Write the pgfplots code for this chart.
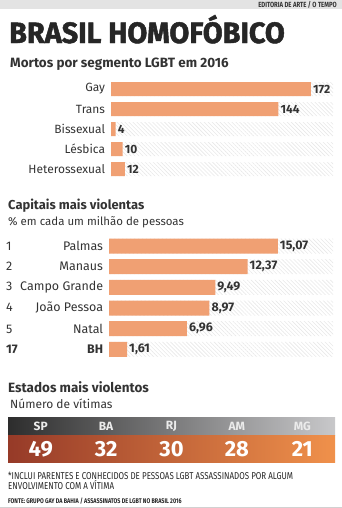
\documentclass[border=0pt]{standalone}
\usepackage{pgfplots}
\pgfplotsset{compat=1.18}
\usetikzlibrary{patterns.meta}
\usepackage{fontspec}
\setmainfont{Fira Sans}
\newfontfamily\condfont{Fira Sans}[FakeStretch=0.8]
\newfontfamily\titlefont{Fira Sans}[FakeStretch=0.98, FakeBold=1.6]
\definecolor{barc}{RGB}{240,160,115}
\definecolor{txt}{RGB}{51,51,51}
\definecolor{hatch}{RGB}{232,232,232}
\definecolor{sA}{RGB}{45,45,45}
\definecolor{sB}{RGB}{200,200,202}
\definecolor{rA}{RGB}{150,58,40}
\definecolor{rB}{RGB}{240,145,75}
\pgfplotsset{/pgf/number format/assume math mode=true}
\begin{document}
\begin{tikzpicture}
\path[use as bounding box] (0,0) rectangle (342bp,-508bp);
% top band
\fill[black!11] (0,0) rectangle (342bp,-9bp);
\node[anchor=east, inner sep=0pt, text=txt, font=\condfont\bfseries\fontsize{7.5}{8}\selectfont] at (337bp,-4.7bp) {EDITORIA DE ARTE / O TEMPO};
% title
\node[anchor=base west, inner sep=0pt, text=black!85, font=\titlefont\bfseries\fontsize{29.5}{31}\selectfont] at (9bp,-43bp) {BRASIL HOMOFÓBICO};
\node[anchor=base west, inner sep=0pt, text=txt, font=\bfseries\fontsize{13.5}{15}\selectfont] at (10bp,-67bp) {Mortos por segmento LGBT em 2016};

% chart 1
\begin{axis}[at={(111bp,-79bp)}, anchor=north west, scale only axis,
  width=222bp, height=100bp, xmin=0, xmax=191, ymin=-0.5, ymax=4.5,
  y dir=reverse, clip=false,
  /pgf/number format/assume math mode=true,
  axis line style={draw=none}, tick style={draw=none}, xtick=\empty,
  ytick={0,1,2,3,4},
  yticklabels={Gay,Trans,Bissexual,Lésbica,Heterossexual},
  yticklabel style={text=txt, font=\fontsize{12}{14}\selectfont, inner sep=1.5bp},
  xbar, bar width=14bp, bar shift=0pt]
\addplot[draw=none, pattern={Lines[angle=-45, distance=2.8bp, line width=0.6bp]}, pattern color=hatch]
  coordinates {(191,0) (191,1) (191,2) (191,3) (191,4)};
\addplot[draw=none, fill=barc, nodes near coords,
  nodes near coords style={anchor=west, inner sep=2bp, text=txt, font=\bfseries\fontsize{12}{14}\selectfont}]
  coordinates {(172,0) (144,1) (4,2) (10,3) (12,4)};
\end{axis}

% chart 2 headings
\node[anchor=base west, inner sep=0pt, text=txt, font=\bfseries\fontsize{13}{15}\selectfont] at (8bp,-209bp) {Capitais mais violentas};
\node[anchor=base west, inner sep=0pt, text=txt, font=\fontsize{11.5}{13}\selectfont] at (8bp,-225bp) {\% em cada um milhão de pessoas};

\begin{axis}[at={(109bp,-235.7bp)}, anchor=north west, scale only axis,
  width=224bp, height=124bp, xmin=0, xmax=20, ymin=-0.5, ymax=5.5,
  y dir=reverse, clip=false,
  /pgf/number format/assume math mode=true,
  axis line style={draw=none}, tick style={draw=none}, xtick=\empty,
  ytick={0,1,2,3,4,5},
  yticklabels={{\hbox to 97bp{1\hfill Palmas}},{\hbox to 97bp{2\hfill Manaus}},{\hbox to 97bp{3\hfill Campo Grande}},{\hbox to 97bp{4\hfill João Pessoa}},{\hbox to 97bp{5\hfill Natal}},{\hbox to 97bp{\bfseries 17\hfill BH}}},
  yticklabel style={text=txt, font=\fontsize{12.5}{14}\selectfont, inner sep=1.5bp},
  xbar, bar width=15bp, bar shift=0pt]
\addplot[draw=none, pattern={Lines[angle=-45, distance=2.8bp, line width=0.6bp]}, pattern color=hatch]
  coordinates {(20,0) (20,1) (20,2) (20,3) (20,4) (20,5)};
\addplot[draw=none, fill=barc, nodes near coords,
  nodes near coords style={anchor=west, inner sep=2bp, text=txt, font=\bfseries\fontsize{12.5}{14}\selectfont,
    /pgf/number format/.cd, use comma, fixed, fixed zerofill, precision=2, assume math mode=true}]
  coordinates {(15.07,0) (12.37,1) (9.49,2) (8.97,3) (6.96,4) (1.61,5)};
\end{axis}

% states
\node[anchor=base west, inner sep=0pt, text=txt, font=\bfseries\fontsize{13.5}{15}\selectfont] at (8bp,-392bp) {Estados mais violentos};
\node[anchor=base west, inner sep=0pt, text=txt, font=\fontsize{12}{14}\selectfont] at (10bp,-408bp) {Número de vítimas};
\shade[left color=sA, right color=sB] (8bp,-417bp) rectangle (335bp,-435bp);
\shade[left color=rA, right color=rB] (8bp,-435bp) rectangle (335bp,-462bp);

\begin{axis}[at={(8bp,-417bp)}, anchor=north west, scale only axis,
  width=327bp, height=45bp, xmin=-0.5, xmax=4.5, ymin=-0.565, ymax=1.39,
  hide axis, clip=false, /pgf/number format/assume math mode=true]
\addplot[draw=none, mark=none, nodes near coords, point meta=explicit symbolic,
  nodes near coords style={anchor=center, inner sep=0pt, text=white!92!black, font=\bfseries\fontsize{12}{14}\selectfont}]
  coordinates {(0,1) [SP] (1,1) [BA] (2,1) [RJ] (3,1) [AM] (4,1) [MG]};
\addplot[draw=none, mark=none, nodes near coords, point meta=explicit,
  nodes near coords style={anchor=center, inner sep=0pt, text=white, font=\bfseries\fontsize{22}{24}\selectfont, /pgf/number format/assume math mode=true}]
  coordinates {(0,0) [49] (1,0) [32] (2,0) [30] (3,0) [28] (4,0) [21]};
\end{axis}

% footnotes
\node[anchor=base west, inner sep=0pt, text=black!85, font=\condfont\fontsize{10}{12}\selectfont] at (8bp,-479bp) {*INCLUI PARENTES E CONHECIDOS DE PESSOAS LGBT ASSASSINADOS POR ALGUM};
\node[anchor=base west, inner sep=0pt, text=black!85, font=\condfont\fontsize{10}{12}\selectfont] at (8bp,-489.5bp) {ENVOLVIMENTO COM A VÍTIMA};
\node[anchor=base west, inner sep=0pt, text=black!85, font=\condfont\bfseries\fontsize{6.8}{8}\selectfont] at (8bp,-503bp) {FONTE: GRUPO GAY DA BAHIA / ASSASSINATOS DE LGBT NO BRASIL 2016};
\draw[black!18, line width=1bp] (0,-507.5bp) -- (342bp,-507.5bp);
\end{tikzpicture}
\end{document}
